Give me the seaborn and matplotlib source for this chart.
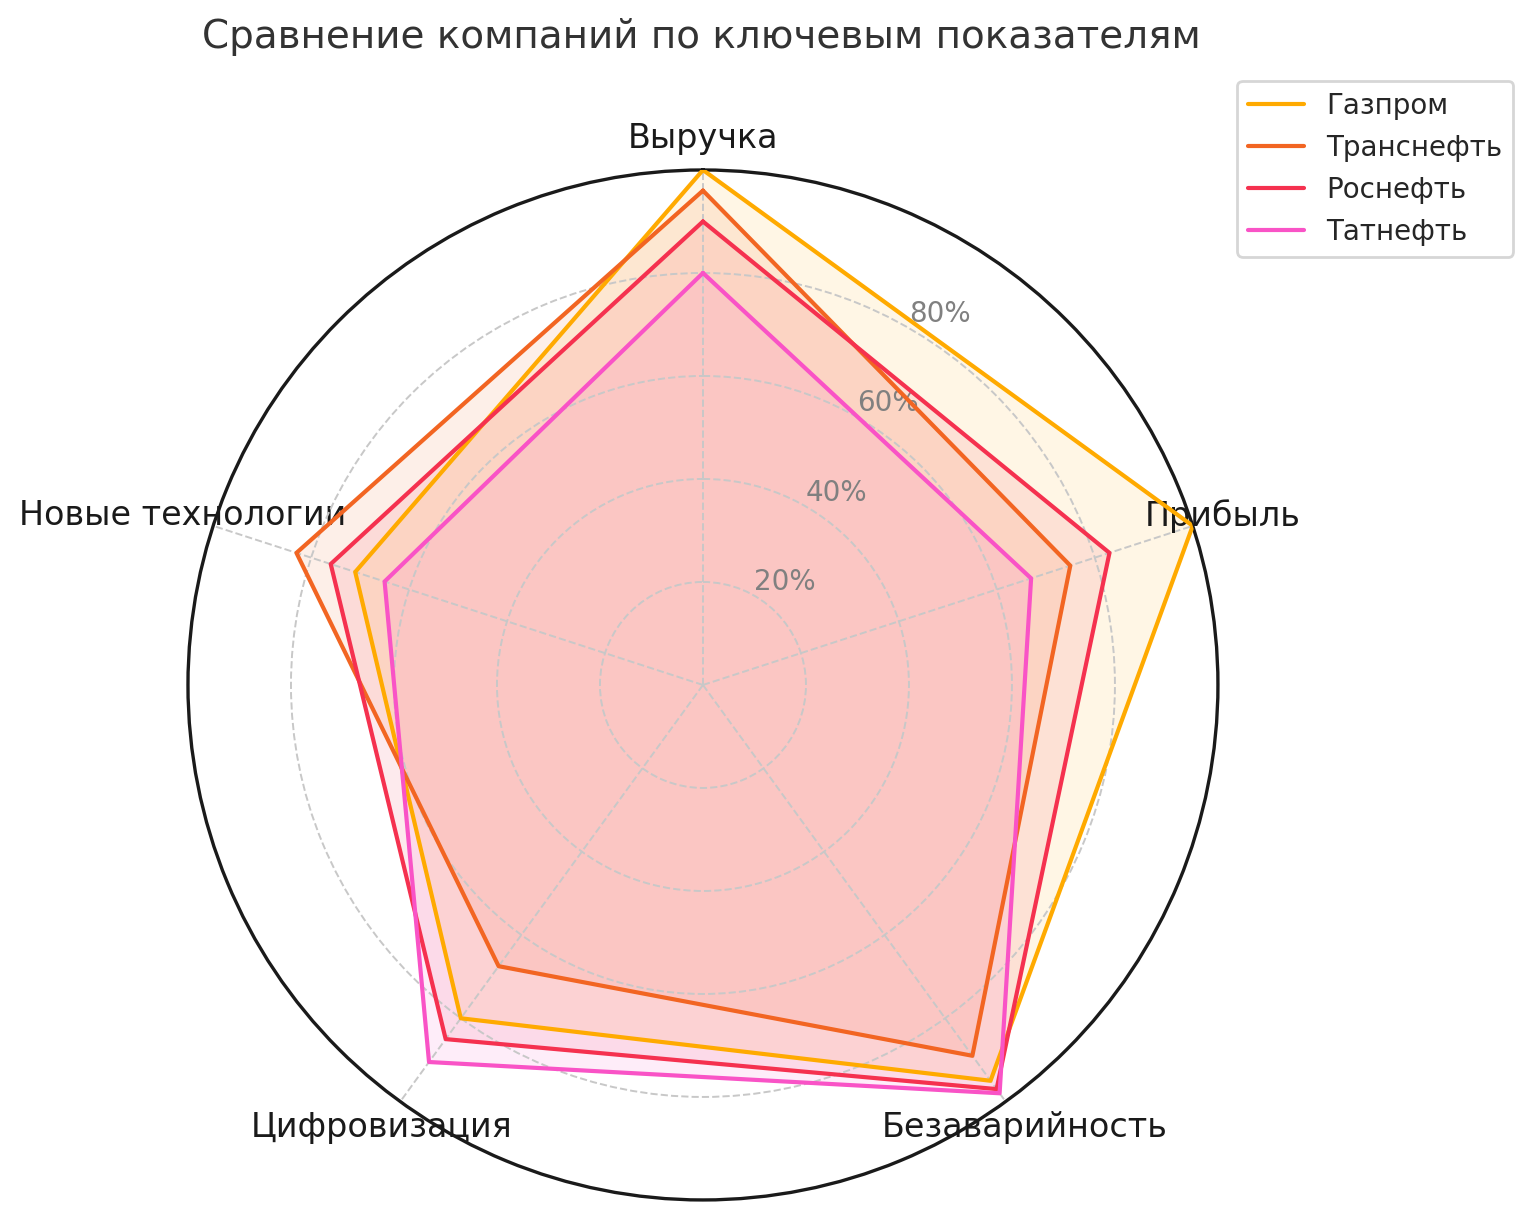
import numpy as np
import pandas as pd
import seaborn as sns
import matplotlib.pyplot as plt

sns.set_style("whitegrid")
plt.rcParams['font.family'] = ['DejaVu Sans']

categories = ['Выручка', 'Прибыль', 'Безаварийность', 'Цифровизация', 'Новые технологии']
companies = ['Газпром', 'Транснефть', 'Роснефть', 'Татнефть']
gazprom = [100, 100, 95, 80, 71]
transneft = [96, 75, 89, 67.5, 83]
rosneft = [90, 83, 97, 85, 76]
tatneft = [80, 67, 98, 90.5, 65]
colors = ['#FFAA00', '#F26522', '#F5314F', '#F953C6']

df = pd.DataFrame([gazprom, transneft, rosneft, tatneft], index=companies, columns=categories)

n = len(categories)
angles = np.linspace(0, 2 * np.pi, n, endpoint=False).tolist()
angles_closed = angles + angles[:1]

fig = plt.figure(figsize=(7.66, 6.1), dpi=200)
ax = fig.add_axes([0.1227, 0.0164, 0.6723, 0.8443], polar=True)
ax.set_theta_offset(np.pi / 2)
ax.set_theta_direction(-1)
ax.set_axisbelow(False)

for name, color in zip(companies, colors):
    vals = df.loc[name].tolist()
    vals = vals + vals[:1]
    ax.plot(angles_closed, vals, color=color, linewidth=1.5, label=name, zorder=3)
    ax.fill(angles_closed, vals, color=color, alpha=0.1, zorder=1)

ax.set_ylim(0, 100)
ax.set_xticks(angles)
ax.set_xticklabels(categories, fontsize=12, color='#1a1a1a')
ax.tick_params(axis='x', pad=1)
ax.set_yticks([20, 40, 60, 80])
ax.set_yticklabels(['20%', '40%', '60%', '80%'], fontsize=10, color='grey')
ax.set_rlabel_position(30)
ax.grid(True, linestyle='--', linewidth=0.7, color='#c8c8c8')
ax.spines['polar'].set_color('#1a1a1a')
ax.spines['polar'].set_linewidth(1.2)

fig.suptitle('Сравнение компаний по ключевым показателям', fontsize=14, color='#333333',
             x=0.458, y=0.985)
ax.legend(loc='upper left', bbox_to_anchor=(1.005, 1.10), fontsize=10, frameon=True)

fig.savefig('out.png', dpi=200)
